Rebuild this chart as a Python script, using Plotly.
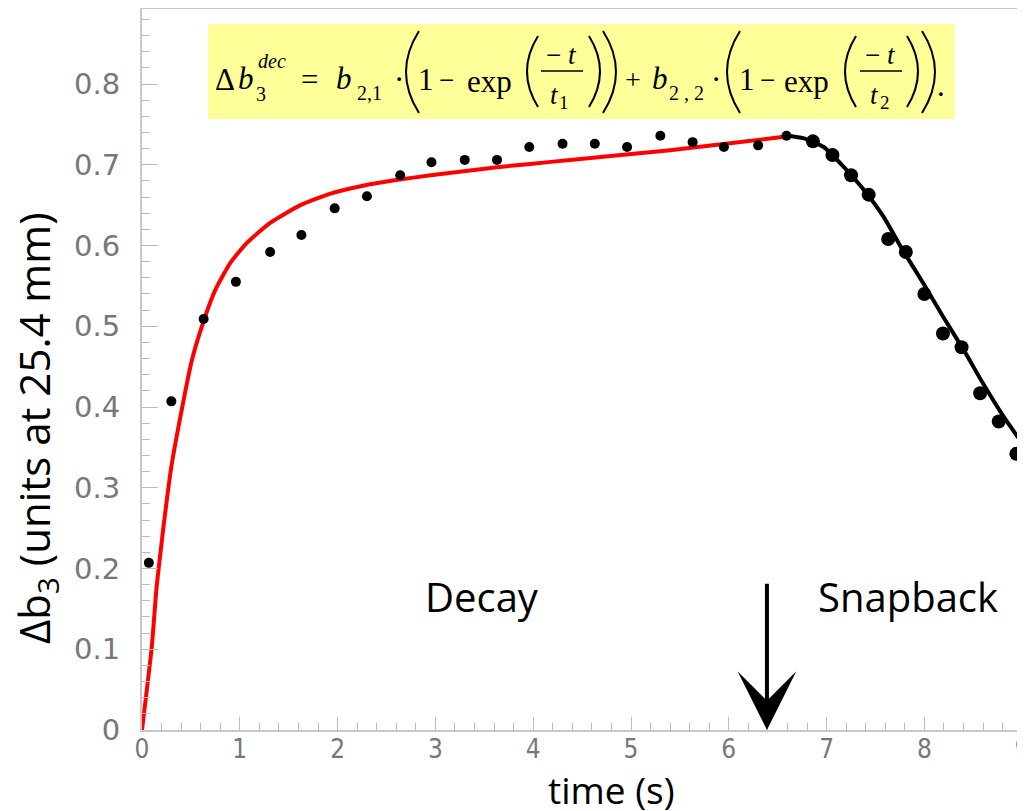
import plotly.graph_objects as go

# measured decay points (time s, delta b3)
decay_t = [0.07, 0.30, 0.63, 0.96, 1.31, 1.63, 1.97, 2.30, 2.64, 2.96, 3.30,
           3.63, 3.96, 4.30, 4.63, 4.96, 5.30, 5.63, 5.95, 6.30, 6.59]
decay_b3 = [0.207, 0.407, 0.509, 0.555, 0.592, 0.613, 0.646, 0.661, 0.687, 0.703, 0.706,
            0.706, 0.722, 0.726, 0.726, 0.722, 0.736, 0.728, 0.722, 0.724, 0.736]

# measured snapback points
snap_t = [6.86, 7.06, 7.25, 7.43, 7.63, 7.81, 8.00, 8.19, 8.38, 8.57, 8.76, 8.94]
snap_b3 = [0.729, 0.712, 0.687, 0.663, 0.608, 0.592, 0.540, 0.491, 0.474, 0.417, 0.382, 0.342]

# fitted decay curve (red)
fit_decay_t = [0, 0.10, 0.15, 0.22, 0.30, 0.41, 0.51, 0.61, 0.75, 0.90, 1.07, 1.31,
               1.62, 1.92, 2.26, 2.60, 2.95, 3.29, 3.63, 3.97, 4.38, 5.40, 6.52, 6.60]
fit_decay_b3 = [0, 0.103, 0.178, 0.252, 0.326, 0.399, 0.458, 0.499, 0.545, 0.578, 0.603, 0.628,
                0.650, 0.664, 0.674, 0.681, 0.687, 0.692, 0.697, 0.701, 0.706, 0.718, 0.734, 0.736]

# fitted snapback curve (black)
fit_snap_t = [6.60, 6.76, 6.97, 7.17, 7.38, 7.58, 7.78, 7.99, 8.19, 8.40, 8.60, 8.81, 9.03]
fit_snap_b3 = [0.736, 0.733, 0.722, 0.698, 0.669, 0.636, 0.594, 0.553, 0.512, 0.471, 0.429, 0.388, 0.350]

arrow_t = 6.39
arrow_tail = 0.183

W, H = 1025, 811
OFF = 8  # page body margin shifts the figure by 8px
# plot area in screen pixels
SL, SR, ST, SB = 142, 1025, 9, 730
PW, PH = SR - SL, SB - ST


def px_x(p):
    return (p - SL) / PW


def px_y(p):
    return (SB - p) / PH


fig = go.Figure()

fig.add_trace(go.Scatter(
    x=fit_decay_t, y=fit_decay_b3, mode="lines",
    line=dict(color="#FF0000", width=4, shape="spline", smoothing=0.5),
    cliponaxis=False
))
fig.add_trace(go.Scatter(
    x=fit_snap_t, y=fit_snap_b3, mode="lines",
    line=dict(color="#000000", width=4, shape="spline", smoothing=0.5)
))
fig.add_trace(go.Scatter(
    x=decay_t, y=decay_b3, mode="markers",
    marker=dict(color="#000000", size=10)
))
fig.add_trace(go.Scatter(
    x=snap_t, y=snap_b3, mode="markers",
    marker=dict(color="#000000", size=14)
))

shapes = [dict(type="rect", xref="paper", yref="paper",
               x0=px_x(208), x1=px_x(955), y0=px_y(119), y1=px_y(24),
               fillcolor="#FFFF99", line=dict(width=0), layer="above")]


def paren(x, top, bot, bulge):
    mid = (top + bot) / 2
    return (f"M{px_x(x)},{px_y(top)} Q{px_x(x + 2 * bulge)},{px_y(mid)} "
            f"{px_x(x)},{px_y(bot)}")


# big brackets of the formula: (x, top, bottom, bulge)
for x, top, bot, bulge in [(419, 31, 113, -13), (538, 36, 107, -11), (589, 36, 107, 11),
                           (603, 31, 113, 13), (740, 31, 113, -13), (856, 36, 107, -11),
                           (907, 36, 107, 11), (922, 31, 113, 13)]:
    shapes.append(dict(type="path", xref="paper", yref="paper", path=paren(x, top, bot, bulge),
                       line=dict(color="#000000", width=2), layer="above"))

for x0, x1 in [(541, 583), (860, 902)]:
    shapes.append(dict(type="line", xref="paper", yref="paper",
                       x0=px_x(x0), x1=px_x(x1), y0=px_y(71), y1=px_y(71),
                       line=dict(color="#000000", width=1.5), layer="above"))

formula = [
    ("Δ", 225, 80, 31), ("<i>b</i>", 246, 79, 31), ("<i>dec</i>", 272, 61, 20), ("3", 261, 94, 20),
    ("=", 309, 80, 31), ("<i>b</i>", 344, 79, 31), ("2,1", 369, 93, 20), ("·", 399, 80, 31),
    ("1", 426, 80, 31), ("−", 446, 80, 27), ("exp", 489, 82, 31),
    ("− <i>t</i>", 561, 55, 27), ("<i>t</i>", 554, 95, 27), ("1", 564, 102, 19),
    ("+", 633, 80, 28), ("<i>b</i>", 660, 79, 31), ("2 , 2", 686, 93, 20), ("·", 716, 80, 31),
    ("1", 747, 80, 31), ("−", 767, 80, 27), ("exp", 806, 82, 31),
    ("− <i>t</i>", 880, 55, 27), ("<i>t</i>", 874, 95, 27), ("2", 885, 102, 19),
    (".", 941, 86, 31),
]

annotations = []
for txt, x, y, size in formula:
    annotations.append(dict(
        text=txt, xref="paper", yref="paper", x=px_x(x), y=px_y(y),
        xanchor="center", yanchor="middle", showarrow=False,
        font=dict(family="Liberation Serif", size=size, color="#000000")
    ))

annotations += [
    dict(text="Decay", xref="paper", yref="paper", x=px_x(482), y=px_y(596),
         xanchor="center", yanchor="middle", showarrow=False,
         font=dict(family="Open Sans", size=40, color="#000000")),
    dict(text="Snapback", xref="paper", yref="paper", x=px_x(908), y=px_y(596),
         xanchor="center", yanchor="middle", showarrow=False,
         font=dict(family="Open Sans", size=40, color="#000000")),
    # axis titles (offset from the plot centre in the reference)
    dict(text="time (s)", xref="paper", yref="paper", x=px_x(611), y=px_y(789),
         xanchor="center", yanchor="middle", showarrow=False,
         font=dict(family="Open Sans", size=37, color="#000000")),
    dict(text="Δb<sub>3</sub> (units at 25.4 mm)", xref="paper", yref="paper",
         x=px_x(36), y=px_y(428), xanchor="center", yanchor="middle", textangle=-90,
         showarrow=False, font=dict(family="Open Sans", size=42, color="#000000")),
    dict(text="", x=arrow_t, y=0, ax=arrow_t, ay=arrow_tail, xref="x", yref="y",
         axref="x", ayref="y", showarrow=True, arrowhead=3, arrowwidth=4,
         arrowsize=2.45, arrowcolor="#000000", standoff=0),
]

fig.update_layout(
    width=W, height=H,
    margin=dict(l=SL - OFF, r=W - (SR - OFF), t=ST - OFF, b=H - (SB - OFF)),
    paper_bgcolor="#FFFFFF",
    plot_bgcolor="#FFFFFF",
    showlegend=False,
    shapes=shapes,
    annotations=annotations,
    xaxis=dict(
        range=[0, PW / 97.8], dtick=1, tick0=0, automargin=False,
        showgrid=False, zeroline=False,
        showline=True, linecolor="#C8C8C8", linewidth=2, mirror=True,
        ticks="inside", ticklen=13, tickcolor="#BBBBBB", tickwidth=1,
        minor=dict(ticks="inside", ticklen=7, dtick=0.2, tickcolor="#BBBBBB"),
        tickfont=dict(family="DejaVu Sans Condensed, DejaVu Sans", size=26, color="#777777"),
        ticklabelstandoff=-5,
    ),
    yaxis=dict(
        range=[0, PH / 807.5], dtick=0.1, tick0=0, automargin=False,
        showgrid=False, zeroline=False,
        showline=True, linecolor="#C8C8C8", linewidth=2,
        ticks="inside", ticklen=16, tickcolor="#BBBBBB", tickwidth=1,
        minor=dict(ticks="inside", ticklen=8, dtick=0.02, tickcolor="#BBBBBB"),
        tickfont=dict(family="DejaVu Sans", size=29, color="#777777"),
        ticklabelstandoff=14,
    ),
)

fig.write_html("out.html")
